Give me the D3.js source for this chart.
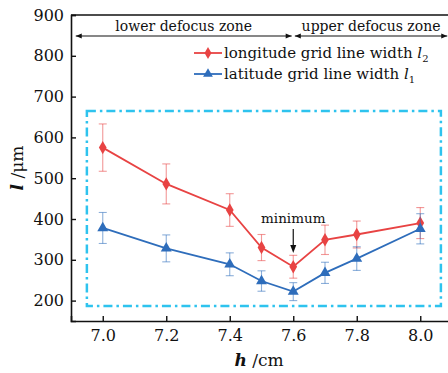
<!DOCTYPE html>
<html>
<head>
<meta charset="utf-8">
<script src="https://cdn.jsdelivr.net/npm/d3@7/dist/d3.min.js"></script>
<style>
  html, body { margin: 0; padding: 0; background: #fff; overflow: hidden; }
  svg { display: block; }
  text { font-family: "DejaVu Serif", "Liberation Serif", serif; fill: #111; }
</style>
</head>
<body>
<svg id="chart" width="448" height="373"></svg>
<script>
// Measured grid line widths (µm) at each lens height h (cm)
const heights = [7.0, 7.2, 7.4, 7.5, 7.6, 7.7, 7.8, 8.0];
const longitudeWidth = [575, 486, 422, 330, 283, 349, 362, 390];
const longitudeErr   = [58, 49, 40, 32, 28, 36, 33, 38];
const latitudeWidth  = [378, 328, 289, 248, 222, 268, 303, 376];
const latitudeErr    = [38, 33, 28, 25, 22, 26, 29, 37];

const xTicks = [7.0, 7.2, 7.4, 7.6, 7.8, 8.0];
const yTicks = [200, 300, 400, 500, 600, 700, 800, 900];
const zoneSplit = 7.6;

const svg = d3.select("#chart");
const margin = { left: 71, top: 15, right: -4, bottom: 52 };
const W = 448, H = 373;

const x = d3.scaleLinear().domain([6.9, 8.1]).range([margin.left, W - margin.right]);
const y = d3.scaleLinear().domain([150, 900]).range([H - margin.bottom, margin.top]);

const red = "#e84343", blue = "#2e6dbb", cyan = "#2ec3ee";

// dash-dot frame around the measured data
svg.append("rect")
  .attr("x", x(6.95)).attr("y", y(665))
  .attr("width", x(8.065) - x(6.95)).attr("height", y(187) - y(665))
  .attr("fill", "none").attr("stroke", cyan).attr("stroke-width", 2.5)
  .attr("stroke-dasharray", "9,4,2.5,4");

// axes with inward ticks
const xAxis = d3.axisBottom(x).tickValues(xTicks).tickSize(-5).tickPadding(9)
  .tickFormat(d3.format(".1f"));
const gx = svg.append("g").attr("transform", `translate(0,${y(150)})`).call(xAxis);
const yAxis = d3.axisLeft(y).tickValues(yTicks).tickSize(-5).tickPadding(7);
const gy = svg.append("g").attr("transform", `translate(${x(6.9)},0)`).call(yAxis);
[gx, gy].forEach(g => {
  g.select(".domain").attr("stroke", "#111").attr("stroke-width", 1.6);
  g.selectAll(".tick line").attr("stroke", "#111").attr("stroke-width", 1.4);
  g.selectAll(".tick text").attr("font-size", 16).style("font-family", "DejaVu Serif, serif").attr("fill", "#111");
});
// top frame line
svg.append("line").attr("x1", x(6.9)).attr("x2", W + 5)
  .attr("y1", y(900)).attr("y2", y(900)).attr("stroke", "#111").attr("stroke-width", 1.6);

// zone arrows
const defs = svg.append("defs");
defs.append("marker").attr("id", "arr").attr("viewBox", "0 0 10 10")
  .attr("refX", 10).attr("refY", 5).attr("markerWidth", 7).attr("markerHeight", 5)
  .attr("orient", "auto-start-reverse")
  .append("path").attr("d", "M0,1 L10,5 L0,9 Z").attr("fill", "#111");
const zoneY = 36;
const zones = [
  { from: 6.915, to: zoneSplit - 0.005, label: "lower defocus zone" },
  { from: zoneSplit + 0.005, to: 8.085, label: "upper defocus zone" }
];
zones.forEach(z => {
  svg.append("line").attr("x1", x(z.from)).attr("x2", x(z.to))
    .attr("y1", zoneY).attr("y2", zoneY).attr("stroke", "#111").attr("stroke-width", 1.2)
    .attr("marker-start", "url(#arr)").attr("marker-end", "url(#arr)");
  svg.append("text").attr("x", (x(z.from) + x(z.to)) / 2).attr("y", zoneY - 5)
    .attr("text-anchor", "middle").attr("font-size", 14).text(z.label);
});

// series
const series = [
  { name: "longitude", vals: longitudeWidth, errs: longitudeErr, color: red, shape: d3.symbolDiamond, size: 52, sub: "2",
    label: "longitude grid line width " },
  { name: "latitude", vals: latitudeWidth, errs: latitudeErr, color: blue, shape: d3.symbolTriangle, size: 52, sub: "1",
    label: "latitude grid line width " }
];

series.forEach(s => {
  const g = svg.append("g");
  // error bars
  heights.forEach((h, i) => {
    const cx = x(h), lo = y(s.vals[i] - s.errs[i]), hi = y(s.vals[i] + s.errs[i]);
    g.append("line").attr("x1", cx).attr("x2", cx).attr("y1", lo).attr("y2", hi)
      .attr("stroke", s.color).attr("stroke-opacity", 0.55).attr("stroke-width", 1.1);
    [lo, hi].forEach(yy => g.append("line").attr("x1", cx - 4).attr("x2", cx + 4)
      .attr("y1", yy).attr("y2", yy).attr("stroke", s.color).attr("stroke-opacity", 0.55).attr("stroke-width", 1.1));
  });
  const line = d3.line().x((d, i) => x(heights[i])).y(d => y(d));
  g.append("path").datum(s.vals).attr("d", line).attr("fill", "none")
    .attr("stroke", s.color).attr("stroke-width", 1.8);
  g.selectAll(".pt").data(s.vals).join("path")
    .attr("transform", (d, i) => `translate(${x(heights[i])},${y(d)})`)
    .attr("d", d3.symbol(s.shape, s.size)).attr("fill", s.color);
});

// legend
series.forEach((s, i) => {
  const ly = 53 + i * 21;
  svg.append("line").attr("x1", 194).attr("x2", 222).attr("y1", ly).attr("y2", ly)
    .attr("stroke", s.color).attr("stroke-width", 1.8);
  svg.append("path").attr("transform", `translate(208,${ly})`)
    .attr("d", d3.symbol(s.shape, s.size * 0.8)).attr("fill", s.color);
  const t = svg.append("text").attr("x", 224).attr("y", ly + 5).attr("font-size", 15);
  t.append("tspan").text(s.label);
  t.append("tspan").attr("font-style", "italic").text("l");
  t.append("tspan").attr("font-size", 10).attr("dy", 4).text(s.sub);
});

// minimum annotation
const minIdx = latitudeWidth.indexOf(d3.min(latitudeWidth));
const mx = x(heights[minIdx]);
svg.append("text").attr("x", mx).attr("y", 223).attr("text-anchor", "middle")
  .attr("font-size", 13.5).text("minimum");
svg.append("line").attr("x1", mx).attr("x2", mx).attr("y1", 229).attr("y2", 246)
  .attr("stroke", "#111").attr("stroke-width", 1.2);
svg.append("path").attr("d", `M${mx - 3},${245} L${mx + 3},${245} L${mx},${253} Z`).attr("fill", "#111");

// axis titles
const xt = svg.append("text").attr("x", 259).attr("y", 366).attr("text-anchor", "middle").attr("font-size", 17);
xt.append("tspan").attr("font-style", "italic").attr("font-weight", "bold").text("h");
xt.append("tspan").text(" /cm");
const yt = svg.append("text").attr("transform", `translate(23,${y(525)}) rotate(-90)`)
  .attr("text-anchor", "middle").attr("font-size", 17);
yt.append("tspan").attr("font-style", "italic").attr("font-weight", "bold").text("l");
yt.append("tspan").text(" /μm");
</script>
</body>
</html>
